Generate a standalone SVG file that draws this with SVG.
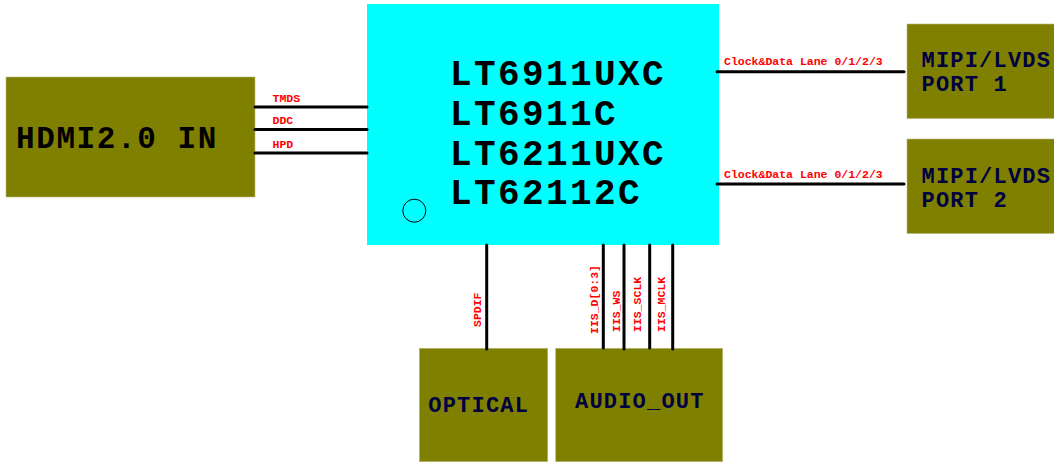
<svg xmlns="http://www.w3.org/2000/svg" width="1054" height="462" viewBox="0 0 1054 462">
<style>
.box{fill:#808000;stroke:#b8b880;stroke-width:0.6}
.chip{fill:#00ffff}
.big{font-family:"Liberation Mono",monospace;font-weight:bold;fill:#000000}
.lbl{font-family:"Liberation Mono",monospace;font-weight:bold;fill:#000040;font-size:22px;letter-spacing:1.2px}
.sig{font-family:"Liberation Mono",monospace;font-weight:bold;fill:#ff0000;font-size:11.5px}
.wire{stroke:#000000;stroke-width:3;fill:none;stroke-linecap:round}
</style>
<rect width="1054" height="462" fill="#ffffff"/>
<g id="hdmi">
<rect class="box" x="6" y="77" width="249" height="120"/>
<text class="big" x="16" y="148" font-size="31" letter-spacing="1.6">HDMI2.0 IN</text>
</g>
<g id="chip">
<rect class="chip" x="367" y="4" width="352" height="241"/>
<text class="big" font-size="36" letter-spacing="2.4"><tspan x="450" y="85">LT6911UXC</tspan><tspan x="450" y="125">LT6911C</tspan><tspan x="450" y="164.5">LT6211UXC</tspan><tspan x="450" y="204">LT62112C</tspan></text>
<circle cx="414.3" cy="210.7" r="11.5" fill="none" stroke="#000000" stroke-width="1"/>
</g>
<g id="port1">
<rect class="box" x="907" y="24" width="150" height="94.5"/>
<text class="lbl"><tspan x="921.5" y="66.7">MIPI/LVDS</tspan><tspan x="921.5" y="91">PORT 1</tspan></text>
</g>
<g id="port2">
<rect class="box" x="907" y="139" width="150" height="94.5"/>
<text class="lbl"><tspan x="921.5" y="183.3">MIPI/LVDS</tspan><tspan x="921.5" y="206.7">PORT 2</tspan></text>
</g>
<g id="optical">
<rect class="box" x="419.3" y="348.3" width="128.4" height="113.4"/>
<text class="lbl" x="428.3" y="412.3">OPTICAL</text>
</g>
<g id="audio">
<rect class="box" x="555.7" y="348.3" width="167" height="113.4"/>
<text class="lbl" x="575" y="408.3">AUDIO_OUT</text>
</g>
<g id="connectors">
<line class="wire" x1="255" y1="107" x2="367" y2="107" stroke-linecap="butt"/>
<line class="wire" x1="255" y1="129.5" x2="367" y2="129.5" stroke-linecap="butt"/>
<line class="wire" x1="255" y1="153" x2="367" y2="153" stroke-linecap="butt"/>
<text class="sig" x="272.5" y="101.7">TMDS</text>
<text class="sig" x="272.5" y="124.3">DDC</text>
<text class="sig" x="272.5" y="147.7">HPD</text>
<line class="wire" x1="717" y1="71.7" x2="904" y2="71.7"/>
<line class="wire" x1="717" y1="184" x2="904" y2="184"/>
<text class="sig" x="724" y="65.3">Clock&amp;Data Lane 0/1/2/3</text>
<text class="sig" x="724" y="178">Clock&amp;Data Lane 0/1/2/3</text>
<line class="wire" x1="486.7" y1="245" x2="486.7" y2="349"/>
<line class="wire" x1="603.3" y1="245" x2="603.3" y2="348"/>
<line class="wire" x1="624" y1="245" x2="624" y2="349"/>
<line class="wire" x1="649.7" y1="245" x2="649.7" y2="348"/>
<line class="wire" x1="672.7" y1="245" x2="672.7" y2="349"/>
<text class="sig" transform="translate(481,327) rotate(-90)">SPDIF</text>
<text class="sig" transform="translate(598.3,334) rotate(-90)">IIS_D[0:3]</text>
<text class="sig" transform="translate(620,332) rotate(-90)">IIS_WS</text>
<text class="sig" transform="translate(640.7,332) rotate(-90)">IIS_SCLK</text>
<text class="sig" transform="translate(665,332) rotate(-90)">IIS_MCLK</text>
</g>
</svg>
